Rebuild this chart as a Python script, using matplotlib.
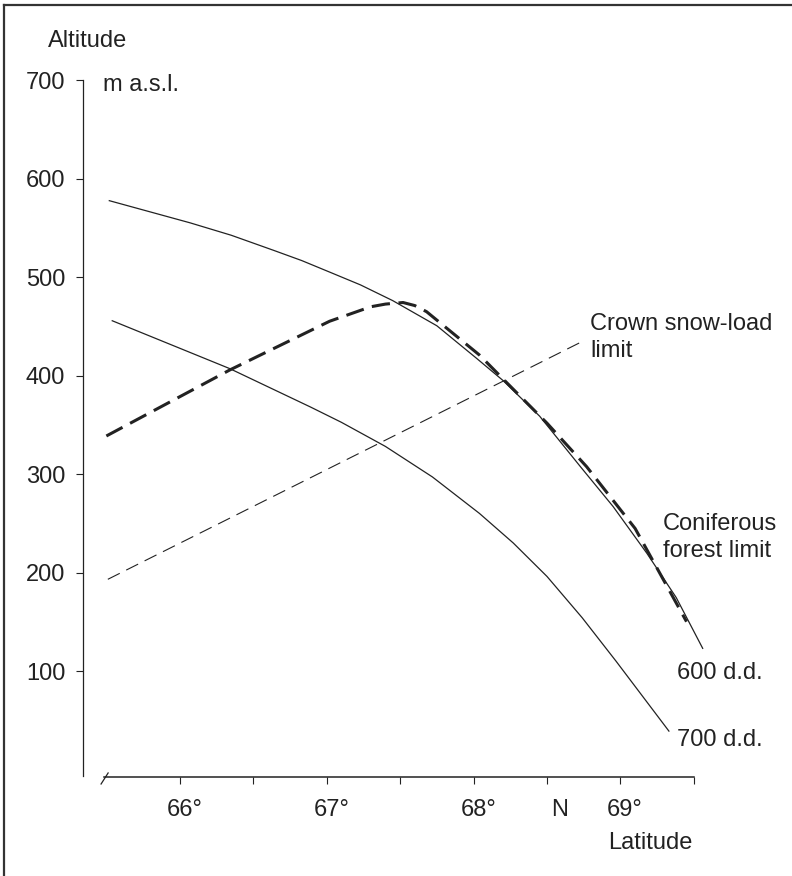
import numpy as np
import matplotlib
matplotlib.use('Agg')
import matplotlib.pyplot as plt
from matplotlib.lines import Line2D

plt.rcParams['font.family'] = ['Liberation Sans', 'DejaVu Sans']

# heat sum isolines (degree days), latitude vs altitude
lat_600 = [65.52, 66.07, 66.35, 66.64, 66.83, 67.02, 67.23, 67.45, 67.75, 68.02,
           68.20, 68.45, 68.73, 68.95, 69.18, 69.38, 69.56]
alt_600 = [577.5, 555, 542.4, 527, 516.7, 505, 492, 476, 450.5, 417.5,
           395, 358.7, 307, 267, 219.5, 174.5, 123]

lat_700 = [65.54, 66.34, 66.89, 67.10, 67.40, 67.72, 68.04, 68.27, 68.50, 68.74, 68.97, 69.33]
alt_700 = [455.6, 407, 368, 352.5, 328, 297, 260, 230, 196, 154, 110, 39]

# coniferous forest limit (thick dashed)
lat_forest = [65.50, 66.34, 67.02, 67.30, 67.40, 67.52, 67.60, 67.68, 68.04, 68.23,
              68.50, 68.77, 69.10, 69.45]
alt_forest = [338.6, 405.6, 455.1, 469.8, 472.5, 474.1, 471, 464.8, 420.8, 392.1,
              351.6, 307.4, 244.7, 150.1]

# crown snow-load limit (thin dashed, straight)
lat_snow = [65.51, 68.75]
alt_snow = [193.1, 435.3]

yticks = [100, 200, 300, 400, 500, 600, 700]
xticks = [66, 66.5, 67, 67.5, 68, 68.5, 69, 69.5]
xlabels = {66: '66°', 67: '67°', 68: '68°', 69: '69°'}

ink = '#222222'
fs = 17

fig = plt.figure(figsize=(7.92, 8.76), dpi=100)
ax = fig.add_axes([0.10518, 0.11301, 0.89482, 0.79566])
ax.set_xlim(65.343, 70.168)
ax.set_ylim(-7.6, 700)

ax.plot(lat_600, alt_600, color=ink, lw=0.9, solid_joinstyle='round')
ax.plot(lat_700, alt_700, color=ink, lw=0.9, solid_joinstyle='round')
ax.plot(lat_forest, alt_forest, color=ink, lw=2.2, dashes=(6, 2.8))
ax.plot(lat_snow, alt_snow, color=ink, lw=0.8, dashes=(12, 6.5))

# axes styling
for s in ['top', 'right']:
    ax.spines[s].set_visible(False)
ax.spines['left'].set_bounds(-6.3, 700)
ax.spines['bottom'].set_bounds(65.485, 69.50)
ax.spines['left'].set_color(ink)
ax.spines['bottom'].set_color(ink)
ax.spines['left'].set_linewidth(0.9)
ax.spines['bottom'].set_linewidth(1.1)

ax.set_yticks(yticks)
ax.set_yticklabels([str(v) for v in yticks])
ax.tick_params(axis='y', direction='out', length=5, width=0.8, pad=8,
               labelsize=fs, colors=ink)
ax.set_xticks(xticks)
ax.set_xticklabels([''] * len(xticks))
ax.tick_params(axis='x', direction='out', length=5, width=0.8, colors=ink)

# broken axis slash at start of latitude axis
ax.plot([65.464, 65.512], [-14.7, -3.5], color=ink, lw=0.9, clip_on=False)

# x tick labels: digits centred on the tick, degree sign after
for t, lab in xlabels.items():
    ax.text(t - 0.09, -41, lab, ha='left', va='center', fontsize=fs, color=ink, clip_on=False)
ax.text(68.585, -41, 'N', ha='center', va='center', fontsize=fs, color=ink, clip_on=False)
ax.text(68.917, -75, 'Latitude', ha='left', va='center', fontsize=fs, color=ink, clip_on=False)

fig.text(0.0602, 0.9535, 'Altitude', ha='left', va='center', fontsize=fs, color=ink)
fig.text(0.1304, 0.9030, 'm a.s.l.', ha='left', va='center', fontsize=fs, color=ink)

ax.text(68.793, 438.6, 'Crown snow-load\nlimit', ha='left', va='center',
        fontsize=fs, color=ink, linespacing=1.3, clip_on=False)
ax.text(69.288, 236.0, 'Coniferous\nforest limit', ha='left', va='center',
        fontsize=fs, color=ink, linespacing=1.3, clip_on=False)
ax.text(69.383, 98.0, '600 d.d.', ha='left', va='center', fontsize=fs, color=ink, clip_on=False)
ax.text(69.383, 29.9, '700 d.d.', ha='left', va='center', fontsize=fs, color=ink, clip_on=False)

# scanned frame: top and left edges
fig.add_artist(Line2D([0.005, 1.0], [0.9943, 0.9943], color='#333333', lw=1.6))
fig.add_artist(Line2D([0.005, 0.005], [0.0, 0.9943], color='#333333', lw=1.6))

fig.savefig('out.png', dpi=100)
